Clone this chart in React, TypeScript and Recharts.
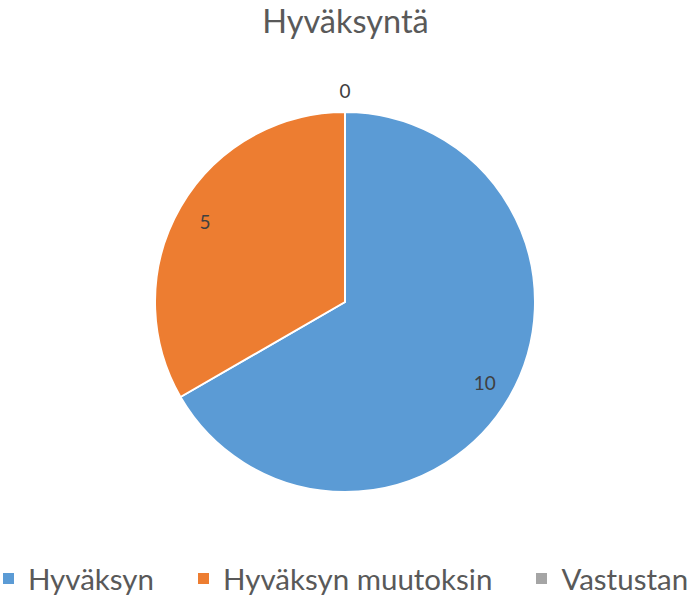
import React from 'react';
import { PieChart, Pie, Cell, Legend } from 'recharts';

const categories = ['Hyväksyn', 'Hyväksyn muutoksin', 'Vastustan'];
const votes = [10, 5, 0];
const colors = ['#5b9bd5', '#ed7d31', '#a5a5a5'];

const data = categories.map((name, i) => ({ name, value: votes[i] }));

const FONT = 'Lato, "Open Sans", sans-serif';
const RAD = Math.PI / 180;

const renderLabel = (props: any) => {
  const { cx, cy, midAngle, outerRadius, value } = props;
  // Excel puts a zero-slice label just outside the pie
  const r = value === 0 ? outerRadius + 22 : outerRadius * 0.85;
  const x = cx + r * Math.cos(-midAngle * RAD);
  const y = cy + r * Math.sin(-midAngle * RAD);
  return (
    <text
      x={x}
      y={y}
      fill="#404040"
      fontSize={19}
      fontFamily={FONT}
      textAnchor="middle"
      dominantBaseline="central"
    >
      {value}
    </text>
  );
};

const LegendContent = () => (
  <div
    style={{
      display: 'flex',
      justifyContent: 'center',
      alignItems: 'center',
      fontFamily: FONT,
      fontSize: 29.5,
      color: '#595959',
    }}
  >
    {categories.map((c, i) => (
      <div key={c} style={{ display: 'flex', alignItems: 'center', marginLeft: i ? 44 : 0 }}>
        <span style={{ width: 11, height: 11, background: colors[i], marginRight: 14 }} />
        <span>{c}</span>
      </div>
    ))}
  </div>
);

const App: React.FC = () => {
  return (
    <div style={{ position: 'relative', width: 691, height: 598, background: '#fff' }}>
      <style>{`body{margin:0}`}</style>
      <div
        style={{
          position: 'absolute',
          top: 1,
          left: 0,
          width: 691,
          textAlign: 'center',
          fontFamily: FONT,
          fontSize: 32.5,
          color: '#595959',
        }}
      >
        Hyväksyntä
      </div>
      <PieChart width={691} height={598} margin={{ top: 0, right: 0, bottom: 0, left: 0 }}>
        <Pie
          data={data}
          dataKey="value"
          nameKey="name"
          cx={345}
          cy={302}
          outerRadius={190}
          startAngle={90}
          endAngle={-270}
          stroke="#fff"
          strokeWidth={2}
          label={renderLabel}
          labelLine={false}
          isAnimationActive={false}
        >
          {data.map((d, i) => (
            <Cell key={d.name} fill={colors[i]} />
          ))}
        </Pie>
        <Legend
          content={<LegendContent />}
          wrapperStyle={{ position: 'absolute', top: 561, left: 0, width: 691 }}
        />
      </PieChart>
    </div>
  );
};

export default App;
